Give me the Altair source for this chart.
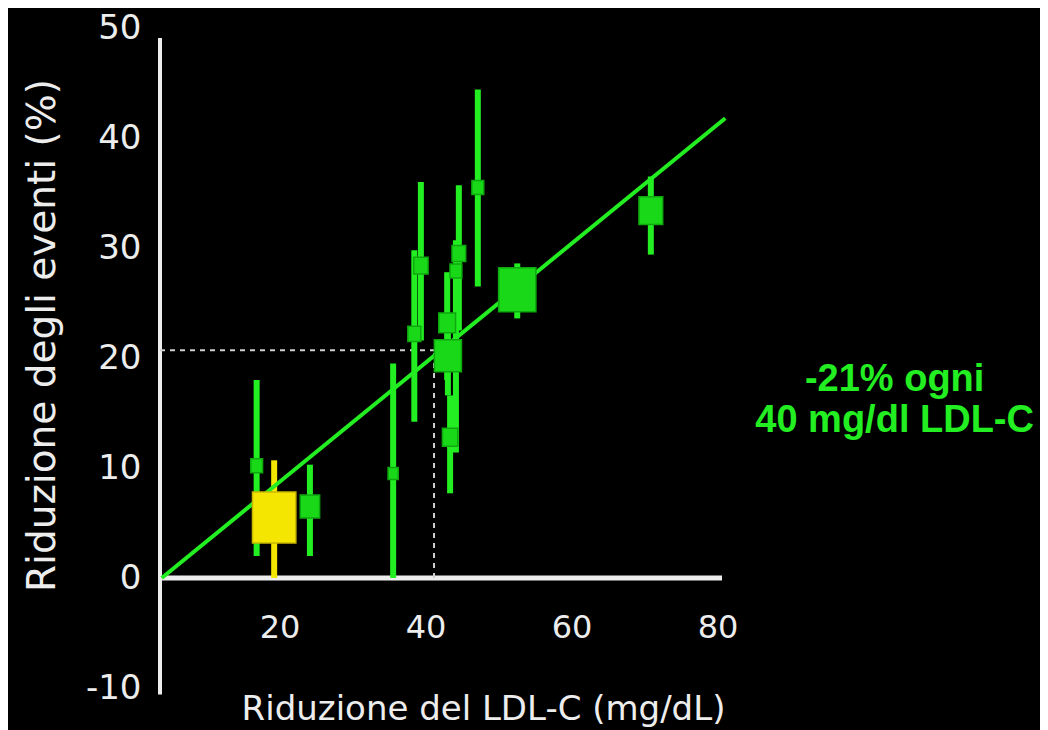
import altair as alt
import pandas as pd

# ---- data ----
ldl_reduction = [16.8, 19.2, 24.1, 35.5, 39.3, 38.4, 42.9, 43.0, 43.3, 44.5, 44.1, 47.1, 52.5, 70.8]
event_reduction = [10.2, 5.5, 6.5, 9.5, 28.4, 22.2, 23.2, 20.2, 12.8, 29.5, 27.9, 35.5, 26.2, 33.4]
ci_low = [2.0, 0.0, 2.0, 0.0, 21.6, 14.2, 18.0, 16.6, 7.7, 22.5, 11.4, 26.5, 23.6, 29.4]
ci_high = [18.0, 10.7, 10.3, 19.5, 36.0, 29.8, 27.8, 23.5, 16.6, 35.7, 30.7, 44.4, 28.6, 36.5]
weight = [7.5, 100, 20, 5.5, 11, 9, 15, 39, 12.5, 10, 7.5, 7.5, 74, 30]
group = ["trial", "highlight"] + ["trial"] * 12

fit_x = [3.8, 81.0]
fit_y = [0.0, 41.8]

guide_x = 41.1
guide_y = 20.7

x_ticks = [20, 40, 60, 80]
y_ticks = [-10, 0, 10, 20, 30, 40, 50]

x_title = "Riduzione del LDL-C (mg/dL)"
y_title = "Riduzione degli eventi (%)"
note = "-21% ogni\n40 mg/dl LDL-C"

# ---- styling ----
GREEN = "#22EE22"
SQ_GREEN = "#18D818"
SQ_EDGE = "#0FA80F"
YELLOW = "#F4E600"
WHITE = "#EDEDED"
X_MIN, X_MAX = 3.56, 80.55
Y_MIN, Y_MAX = -10, 50

trials = pd.DataFrame({
    "ldl": ldl_reduction, "risk": event_reduction,
    "lo": ci_low, "hi": ci_high, "w": weight, "group": group,
})
fit = pd.DataFrame({"ldl": fit_x, "risk": fit_y})

x_scale = alt.Scale(domain=[X_MIN, X_MAX], nice=False, zero=False)
y_scale = alt.Scale(domain=[Y_MIN, Y_MAX], nice=False, zero=False)

x_axis = alt.Axis(title=x_title, labels=False, ticks=False, domain=False, grid=False,
                  titleFont="DejaVu Sans", titleFontSize=34, titleFontWeight="normal",
                  titleColor=WHITE, titleX=323, titleY=31, titleAlign="center",
                  titleBaseline="alphabetic")
y_axis = alt.Axis(title=y_title, values=y_ticks, ticks=False, domain=False, grid=False,
                  labelExpr="'' + datum.value",
                  labelFont="DejaVu Sans", labelFontSize=34, labelColor=WHITE,
                  labelFontWeight="normal",
                  labelPadding=19, labelFlush=False, labelOverlap=False,
                  titleFont="DejaVu Sans", titleFontSize=39, titleFontWeight="normal",
                  titleColor=WHITE, titleX=-118, titleY=307, titleAngle=270,
                  titleAlign="center", titleBaseline="middle")


def X(field):
    return alt.X(field, type="quantitative", scale=x_scale, axis=x_axis)


def Y(field):
    return alt.Y(field, type="quantitative", scale=y_scale, axis=y_axis)


color_scale = alt.Scale(domain=["trial", "highlight"], range=[GREEN, YELLOW])
sq_color_scale = alt.Scale(domain=["trial", "highlight"], range=[SQ_GREEN, YELLOW])
sq_edge_scale = alt.Scale(domain=["trial", "highlight"], range=[SQ_EDGE, "#C9B800"])

# axis lines
xline = alt.Chart(pd.DataFrame({"a": [X_MIN], "b": [X_MAX], "y": [0]})).mark_rule(
    color=WHITE, strokeWidth=5).encode(x=X("a"), x2="b", y=Y("y"))
yline = alt.Chart(pd.DataFrame({"x": [X_MIN], "a": [-10.6], "b": [49.1]})).mark_rule(
    color=WHITE, strokeWidth=4).encode(x=X("x"), y=Y("a"), y2="b")

# dashed guides
hguide = alt.Chart(pd.DataFrame({"a": [X_MIN], "b": [guide_x], "y": [guide_y]})).mark_rule(
    color="#CFCFCF", strokeWidth=2, strokeDash=[5, 5]).encode(x=X("a"), x2="b", y=Y("y"))
vguide = alt.Chart(pd.DataFrame({"x": [guide_x], "a": [0], "b": [guide_y]})).mark_rule(
    color="#CFCFCF", strokeWidth=2, strokeDash=[5, 5]).encode(x=X("x"), y=Y("a"), y2="b")

# error bars
bars = alt.Chart(trials).mark_rule(strokeWidth=6).encode(
    x=X("ldl"), y=Y("lo"), y2="hi",
    color=alt.Color("group:N", scale=color_scale, legend=None))

# regression line
line = alt.Chart(fit).mark_line(color=GREEN, strokeWidth=4).encode(x=X("ldl"), y=Y("risk"))

# squares
box_shape = "M-0.85,-1L0.85,-1L0.85,1L-0.85,1Z"
squares = alt.Chart(trials).mark_point(filled=True, opacity=1, shape=box_shape,
                                       strokeWidth=1.5, strokeOpacity=1).encode(
    x=X("ldl"), y=Y("risk"),
    size=alt.Size("w:Q", scale=alt.Scale(domain=[0, 100], range=[0, 2601]), legend=None),
    fill=alt.Fill("group:N", scale=sq_color_scale, legend=None),
    stroke=alt.Stroke("group:N", scale=sq_edge_scale, legend=None))

# x tick labels (the x axis sits at y = 0)
xlabels = alt.Chart(pd.DataFrame({"v": x_ticks, "y": [-4.55] * len(x_ticks)})).mark_text(
    font="DejaVu Sans", fontSize=32, color=WHITE, baseline="middle", align="center").encode(
    x=X("v"), y=Y("y"), text=alt.Text("v:Q"))

# annotation
annot = alt.Chart(pd.DataFrame({"x": [104.2], "y": [18.0], "t": [note]})).mark_text(
    font="Liberation Sans", fontSize=38, fontWeight="bold", color=GREEN,
    align="center", baseline="middle", lineBreak="\n", lineHeight=41).encode(
    x=X("x"), y=Y("y"), text="t:N")

chart = alt.layer(xline, yline, hguide, vguide, bars, line, squares, xlabels, annot).properties(
    width=562, height=660,
    padding={"left": 152, "top": 20, "right": 318, "bottom": 42},
    autosize=alt.AutoSizeParams(type="none"),
).configure(background="black").configure_view(stroke=None)

chart.save("out.html", embed_options={"renderer": "svg", "actions": False})
